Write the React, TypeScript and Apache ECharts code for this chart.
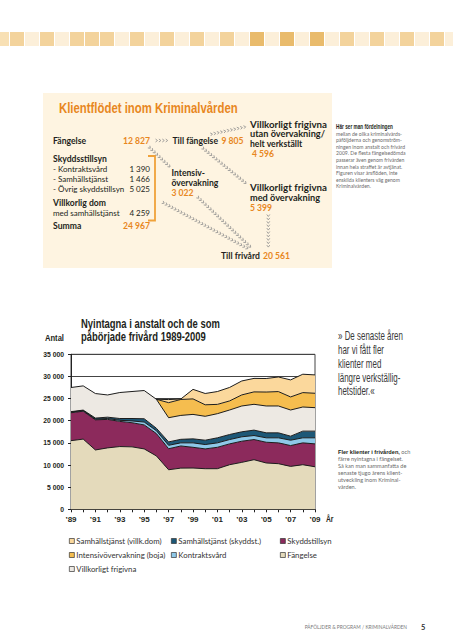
import { useEffect, useRef } from 'react';
import * as echarts from 'echarts';

// ---------- data ----------
const years = ['1989','1990','1991','1992','1993','1994','1995','1996','1997','1998','1999','2000','2001','2002','2003','2004','2005','2006','2007','2008','2009'];
const fangelse = [15500, 15850, 13400, 13870, 14170, 14100, 13640, 12050, 8930, 9300, 9320, 9170, 9170, 10070, 10600, 11200, 10460, 10300, 9690, 10070, 9600];
const skyddstillsyn = [6300, 6300, 6800, 6430, 5680, 5450, 5410, 5050, 4740, 5000, 4680, 4470, 4830, 4700, 4770, 4550, 4680, 4700, 4700, 4930, 5170];
const kontraktsvard = [150, 150, 150, 200, 250, 400, 650, 650, 780, 700, 1000, 980, 1000, 980, 1000, 910, 1000, 1140, 1210, 1140, 1370];
const samhSkyddst = [100, 100, 250, 300, 400, 550, 750, 550, 770, 800, 910, 980, 1140, 1140, 1130, 1220, 1130, 1130, 910, 1510, 1510];
const villkFrigivna = [5450, 5470, 5540, 5020, 5870, 6100, 6370, 6540, 5460, 5400, 5520, 5400, 5450, 5530, 5830, 5830, 6060, 6060, 5910, 5450, 5300];
const intensiv = ['-', '-', '-', '-', '-', '-', '-', 0, 3400, 3600, 3500, 2600, 2100, 2050, 2500, 2800, 3150, 3250, 2950, 3250, 3250];
const samhVillk = ['-', '-', '-', '-', '-', '-', '-', 0, 700, 100, 2150, 2550, 2900, 3050, 3150, 3050, 3050, 3300, 3850, 4150, 4150];

const yTicks = [0, 5000, 10000, 15000, 20000, 25000, 30000, 35000];

// flow diagram figures
const flowLeft = [
  { label: 'Fängelse', value: '12 827', kind: 'head' },
  { label: 'Skyddsstillsyn', value: '', kind: 'head' },
  { label: '- Kontraktsvård', value: '1 390', kind: 'sub' },
  { label: '- Samhällstjänst', value: '1 466', kind: 'sub' },
  { label: '- Övrig skyddstillsyn', value: '5 025', kind: 'sub' },
  { label: 'Villkorlig dom', value: '', kind: 'head' },
  { label: 'med samhällstjänst', value: '4 259', kind: 'sub' },
  { label: 'Summa', value: '24 967', kind: 'sum' },
];
const flowLeftY = [143.3, 161.7, 171.7, 181.7, 191.7, 205.7, 215.7, 228.3];

const sideText1 = [
  'mellan de olika kriminalvårds-',
  'påföljderna och genomström-',
  'ningen inom anstalt och frivård',
  '2009. De flesta fängelsedömda',
  'passerar även genom frivården',
  'innan hela straffet är avtjänat.',
  'Figuren visar årsflöden, inte',
  'enskilda klienters väg genom',
  'Kriminalvården.',
];
const quoteLines = ['» De senaste åren', 'har vi fått fler', 'klienter med', 'längre verkställig-', 'hetstider.«'];
const sideText2 = [
  '{b|Fler klienter i frivården,} och',
  'färre nyintagna i fängelset.',
  'Så kan man sammanfatta de',
  'senaste tjugo årens klient-',
  'utveckling inom Kriminal-',
  'vården.',
];
const stripShades = [1,2,0,2,0,2,2,2,0,2,0,2,0,2,0,2,0,3,0,3,0,3,0,2,0,2,0,2,0,2,0];

// ---------- styles ----------
const COND = "'Liberation Sans', Arial, sans-serif";
const BODY = "Lato, 'Open Sans', sans-serif";
const ORANGE = '#e8871e';
const INK = '#231f20';
const C = {
  fangelse: '#e4dabb',
  skydd: '#8c2a5c',
  kontrakt: '#8ec8e8',
  samhSk: '#1d5877',
  villk: '#ede9e3',
  intensiv: '#f5bd4f',
  samhVi: '#fbd89c',
};
const stripColors = ['#fcefd9', '#f8e0b4', '#f3d39c', '#e9bb6c'];

let ctx: CanvasRenderingContext2D | null = null;
function fitScale(text: string, font: string, target: number) {
  if (!ctx) ctx = document.createElement('canvas').getContext('2d');
  if (!ctx) return 1;
  ctx.font = font;
  const w = ctx.measureText(text).width;
  return w > 0 ? target / w : 1;
}

function fontOf(size: number, weight = 'normal', family = BODY) {
  return `${weight} ${size}px ${family}`;
}

function txt(text: string, x: number, y: number, size: number, opts: any = {}) {
  const weight = opts.weight || 'normal';
  const family = opts.family || BODY;
  return {
    type: 'text',
    x,
    y,
    silent: true,
    scaleX: opts.scaleX || 1,
    style: {
      text,
      font: fontOf(size, weight, family),
      fill: opts.fill || INK,
      align: opts.align || 'left',
      verticalAlign: 'middle',
      rich: opts.rich,
    },
  };
}

function fitTxt(text: string, x: number, y: number, size: number, width: number, opts: any = {}) {
  const s = fitScale(text, fontOf(size, opts.weight || 'normal', opts.family || BODY), width);
  return txt(text, x, y, size, { ...opts, scaleX: s });
}

function chevrons(x1: number, y1: number, x2: number, y2: number) {
  const dx = x2 - x1, dy = y2 - y1;
  const L = Math.hypot(dx, dy);
  const ux = dx / L, uy = dy / L, nx = -uy, ny = ux;
  const els: any[] = [];
  for (let s = 2.5; s <= L; s += 3.4) {
    const px = x1 + ux * s, py = y1 + uy * s;
    els.push({
      type: 'polyline',
      silent: true,
      shape: { points: [[px - ux * 2 + nx * 1.5, py - uy * 2 + ny * 1.5], [px, py], [px - ux * 2 - nx * 1.5, py - uy * 2 - ny * 1.5]] },
      style: { stroke: '#8d8d8d', lineWidth: 0.8, fill: 'none' },
    });
  }
  return els;
}

function buildGraphics() {
  const g: any[] = [];
  // decorative strip
  stripShades.forEach((s, i) => {
    g.push({ type: 'rect', silent: true, shape: { x: -5 + i * 15, y: 32, width: 14, height: 14 }, style: { fill: stripColors[s] } });
  });
  // flow panel background
  g.push({ type: 'rect', silent: true, shape: { x: 43, y: 93, width: 289, height: 175 }, style: { fill: '#fef4e1' } });
  g.push(fitTxt('Klientflödet inom Kriminalvården', 59, 108, 14.5, 179, { weight: 'bold', family: COND, fill: ORANGE }));

  const HB = 8.6, HS = 8;
  flowLeft.forEach((r, i) => {
    const y = flowLeftY[i] - 2.8;
    const bold = r.kind !== 'sub';
    g.push(txt(r.label, 53, y, bold ? HB : HS, { weight: bold ? 'bold' : 'normal' }));
    if (r.value) {
      const isOrange = r.kind === 'sum' || r.label === 'Fängelse';
      g.push(txt(r.value, 150, y, isOrange ? HB : HS, { align: 'right', weight: isOrange ? 'bold' : 'normal', fill: isOrange ? ORANGE : INK }));
    }
  });
  // bracket
  g.push({ type: 'polyline', silent: true, shape: { points: [[148, 156], [155, 156], [155, 220.5], [148, 220.5]] }, style: { stroke: '#f0a23a', lineWidth: 1.8, fill: 'none' } });

  const B = { weight: 'bold' };
  const O = { weight: 'bold', fill: ORANGE };
  g.push(txt('Till fängelse', 172.5, 140.5, HB, B));
  g.push(txt('9 805', 221.5, 140.5, HB, O));
  g.push(txt('Intensiv-', 171.5, 173.2, HB, B));
  g.push(txt('övervakning', 171.5, 183, HB, B));
  g.push(txt('3 022', 171.5, 193.2, HB, O));
  g.push(fitTxt('Villkorligt frigivna', 250, 124.5, HB, 77, B));
  g.push(fitTxt('utan övervakning/', 250, 134, HB, 75, B));
  g.push(txt('helt verkställt', 250, 143.5, HB, B));
  g.push(txt('4 596', 252, 153.5, HB, O));
  g.push(fitTxt('Villkorligt frigivna', 250, 188.2, HB, 77, B));
  g.push(fitTxt('med övervakning', 250, 198, HB, 70, B));
  g.push(txt('5 399', 250, 208.2, HB, O));
  g.push(txt('Till frivård', 221, 256.2, HB, B));
  g.push(txt('20 561', 263, 256.2, HB, O));

  // arrows
  g.push(...chevrons(155, 140.5, 170, 140.5));
  g.push(...chevrons(210, 134.5, 247, 126.5));
  g.push(...chevrons(148.5, 146.5, 170, 167));
  g.push(...chevrons(202, 147.5, 248, 185));
  g.push(...chevrons(197, 196.5, 251.5, 248));
  g.push(...chevrons(162, 202, 249.5, 249.5));
  g.push(...chevrons(268.3, 214, 268.3, 248));

  // side text block 1
  g.push(fitTxt('Här ser man fördelningen', 336, 126.5, 6.4, 57, { weight: 'bold', family: COND }));
  sideText1.forEach((s, i) => g.push(txt(s, 336, 133.5 + i * 6.6, 5.1, { fill: '#6b6b6b' })));

  // chart titles
  g.push(fitTxt('Antal', 45, 338.3, 8.5, 19, { weight: 'bold', family: COND }));
  const tFont = fontOf(12, 'bold', COND);
  const tScale = fitScale('Nyintagna i anstalt och de som', tFont, 139);
  g.push(txt('Nyintagna i anstalt och de som', 81, 323.5, 12, { weight: 'bold', family: COND, scaleX: tScale }));
  g.push(txt('påbörjade frivård 1989-2009', 81, 336.5, 12, { weight: 'bold', family: COND, scaleX: tScale }));
  g.push(fitTxt('År', 326, 519, 8.5, 7.5, { weight: 'bold', family: COND }));

  // quote
  const qFont = fontOf(12, 'normal', COND);
  const qScale = fitScale(quoteLines[0], qFont, 65);
  quoteLines.forEach((s, i) => g.push(txt(s, 338, 336 + i * 13.8, 12, { family: COND, fill: '#3a3a3a', scaleX: qScale })));
  // side text 2
  sideText2.forEach((s, i) =>
    g.push(txt(s, 338, 451.7 + i * 7, 5.6, { fill: '#6b6b6b', rich: { b: { fontWeight: 'bold', fill: INK, fontSize: 5.6, fontFamily: COND } } }))
  );

  // footer
  g.push(txt('PÅFÖLJDER & PROGRAM / KRIMINALVÅRDEN', 407, 627, 4.8, { align: 'right', fill: '#7a7a7a' }));
  g.push(txt('5', 421, 627, 7.5, { weight: 'bold', fill: '#333' }));
  return g;
}

const fmtY = (v: number) => (v === 0 ? '0' : `${Math.floor(v / 1000)} ${String(v % 1000).padStart(3, '0')}`);

function area(name: string, data: any[], color: string) {
  return {
    name,
    type: 'line',
    stack: 'total',
    data,
    symbol: 'none',
    smooth: false,
    itemStyle: { color },
    lineStyle: { color: '#1c1c1c', width: 1 },
    areaStyle: { color, opacity: 1 },
    emphasis: { disabled: true },
  };
}

const legendCommon = {
  orient: 'vertical',
  icon: 'rect',
  itemWidth: 5,
  itemHeight: 5,
  itemGap: 4,
  selectedMode: false,
  itemStyle: { borderColor: '#333', borderWidth: 0.7 },
  textStyle: { fontFamily: BODY, fontSize: 7.8, color: '#333', lineHeight: 10, padding: [0, 0, 0, -3] },
};

export default function App() {
  const ref = useRef<HTMLDivElement>(null);
  useEffect(() => {
    const chart = echarts.init(ref.current!, null, { renderer: 'svg' });
    chart.setOption({
      animation: false,
      backgroundColor: '#ffffff',
      grid: { left: 71, right: 138, top: 354.3, bottom: 130.7, show: true, borderColor: '#444', borderWidth: 1, backgroundColor: 'transparent' },
      xAxis: {
        type: 'category',
        data: years,
        boundaryGap: false,
        axisLine: { lineStyle: { color: '#222', width: 1 } },
        axisTick: { show: true, interval: 0, length: 3, lineStyle: { color: '#222' } },
        axisLabel: { interval: 1, margin: 6, formatter: (v: string) => '\u2019' + v.slice(2), fontFamily: COND, fontWeight: 'bold', fontSize: 8, color: INK },
        splitLine: { show: false },
      },
      yAxis: {
        type: 'value',
        min: yTicks[0],
        max: yTicks[yTicks.length - 1],
        interval: 5000,
        axisLine: { show: true, lineStyle: { color: '#222', width: 1 } },
        axisTick: { show: true, length: 3, lineStyle: { color: '#222' } },
        axisLabel: { margin: 7, formatter: fmtY, fontFamily: COND, fontWeight: 'bold', fontSize: 6.8, color: INK },
        splitLine: { show: true, lineStyle: { color: '#444', width: 1 } },
      },
      legend: [
        { ...legendCommon, left: 64, top: 531, data: ['Samhällstjänst (villk.dom)', 'Intensivövervakning (boja)', 'Villkorligt frigivna'] },
        { ...legendCommon, left: 166, top: 531, data: ['Samhällstjänst (skyddst.)', 'Kontraktsvård'] },
        { ...legendCommon, left: 275, top: 531, data: ['Skyddstillsyn', 'Fängelse'] },
      ],
      series: [
        area('Fängelse', fangelse, C.fangelse),
        area('Skyddstillsyn', skyddstillsyn, C.skydd),
        area('Kontraktsvård', kontraktsvard, C.kontrakt),
        area('Samhällstjänst (skyddst.)', samhSkyddst, C.samhSk),
        area('Villkorligt frigivna', villkFrigivna, C.villk),
        area('Intensivövervakning (boja)', intensiv, C.intensiv),
        area('Samhällstjänst (villk.dom)', samhVillk, C.samhVi),
      ],
      graphic: buildGraphics(),
    });
    return () => chart.dispose();
  }, []);
  return <div ref={ref} style={{ position: 'absolute', left: 0, top: 0, width: 453, height: 640 }} />;
}
